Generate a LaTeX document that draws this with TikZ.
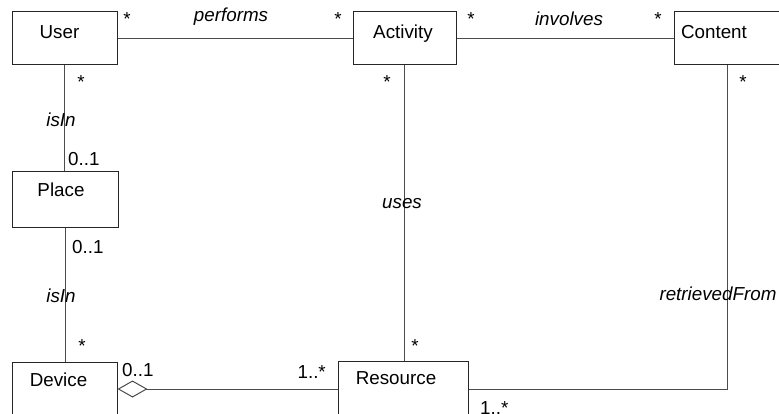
\documentclass[tikz,border=0pt]{standalone}
\usepackage{fontspec}
\setmainfont{Liberation Sans}
\usetikzlibrary{arrows.meta}
\begin{document}
\begin{tikzpicture}[x=1pt,y=-1pt,
  font=\fontsize{18.8}{22}\selectfont,
  cls/.style={draw=black!85, line width=1pt, rectangle, inner sep=0pt, anchor=center},
  conn/.style={draw=black!70, line width=1pt},
  role/.style={inner sep=0pt, anchor=base},
  assoc/.style={inner sep=0pt, anchor=base, font=\fontsize{18.8}{22}\selectfont\itshape}]
\useasboundingbox (0,0) rectangle (779,414);
\clip (0,0) rectangle (779,414);
% classes
\node[cls, minimum width=105pt, minimum height=53pt, text height=27pt, text depth=26pt] (user) at (64.5,38.5) {User\hspace*{10pt}};
\node[cls, minimum width=103pt, minimum height=53pt, text height=27pt, text depth=26pt] (activity) at (404.5,38.5) {Activity\hspace*{3pt}};
\node[cls, minimum width=106pt, minimum height=53pt, text height=27pt, text depth=26pt] (content) at (727,38.5) {Content\hspace*{26pt}};
\node[cls, minimum width=106pt, minimum height=56pt, text height=25pt, text depth=31pt] (place) at (65,200) {Place\hspace*{8pt}};
\node[cls, minimum width=105pt, minimum height=54pt, text height=24pt, text depth=30pt] (device) at (64.5,389) {Device\hspace*{12pt}};
\node[cls, minimum width=130pt, minimum height=56pt, text height=23pt, text depth=33pt] (resource) at (403,389) {Resource\hspace*{14pt}};
% connectors
\draw[conn] (user.east) -- (activity.west);
\draw[conn] (activity.east) -- (content.west);
\draw[conn] (user.south) -- (user.south |- place.north);
\draw[conn] (place.south) -- (place.south |- device.north);
\draw[conn] (activity.south) -- (activity.south |- resource.north);
\draw[conn] (content.south) -- (content.south |- resource.east) -- (resource.east);
\draw[conn, {Diamond[open, length=30pt, width=17pt]}-] (device.east) -- (resource.west);
% association names
\node[assoc] (lperforms) at (231,21.5) {performs};
\node[assoc] (linvolves) at (569,26) {involves};
\node[assoc] (lisin1) at (61,127) {isIn};
\node[assoc] (lisin2) at (61,302) {isIn};
\node[assoc] (luses) at (402,209) {uses};
\node[assoc] (lretr) at (718,300) {retrievedFrom};
% multiplicities
\node[role] (m1) at (127,26) {*};
\node[role] (m2) at (338,26) {*};
\node[role] (m3) at (471,26) {*};
\node[role] (m4) at (658,26) {*};
\node[role] (m5) at (81,89) {*};
\node[role] (m6) at (387,88.5) {*};
\node[role] (m7) at (743,88.5) {*};
\node[role, anchor=base west] (m8) at (68,166) {0..1};
\node[role, anchor=base west] (m9) at (72,254) {0..1};
\node[role] (m10) at (82,352.5) {*};
\node[role, anchor=base west] (m11) at (122,376) {0..1};
\node[role, anchor=base east] (m12) at (326,378) {1..*};
\node[role] (m13) at (415,352) {*};
\node[role, anchor=base west] (m14) at (480,414) {1..*};
\end{tikzpicture}
\end{document}
